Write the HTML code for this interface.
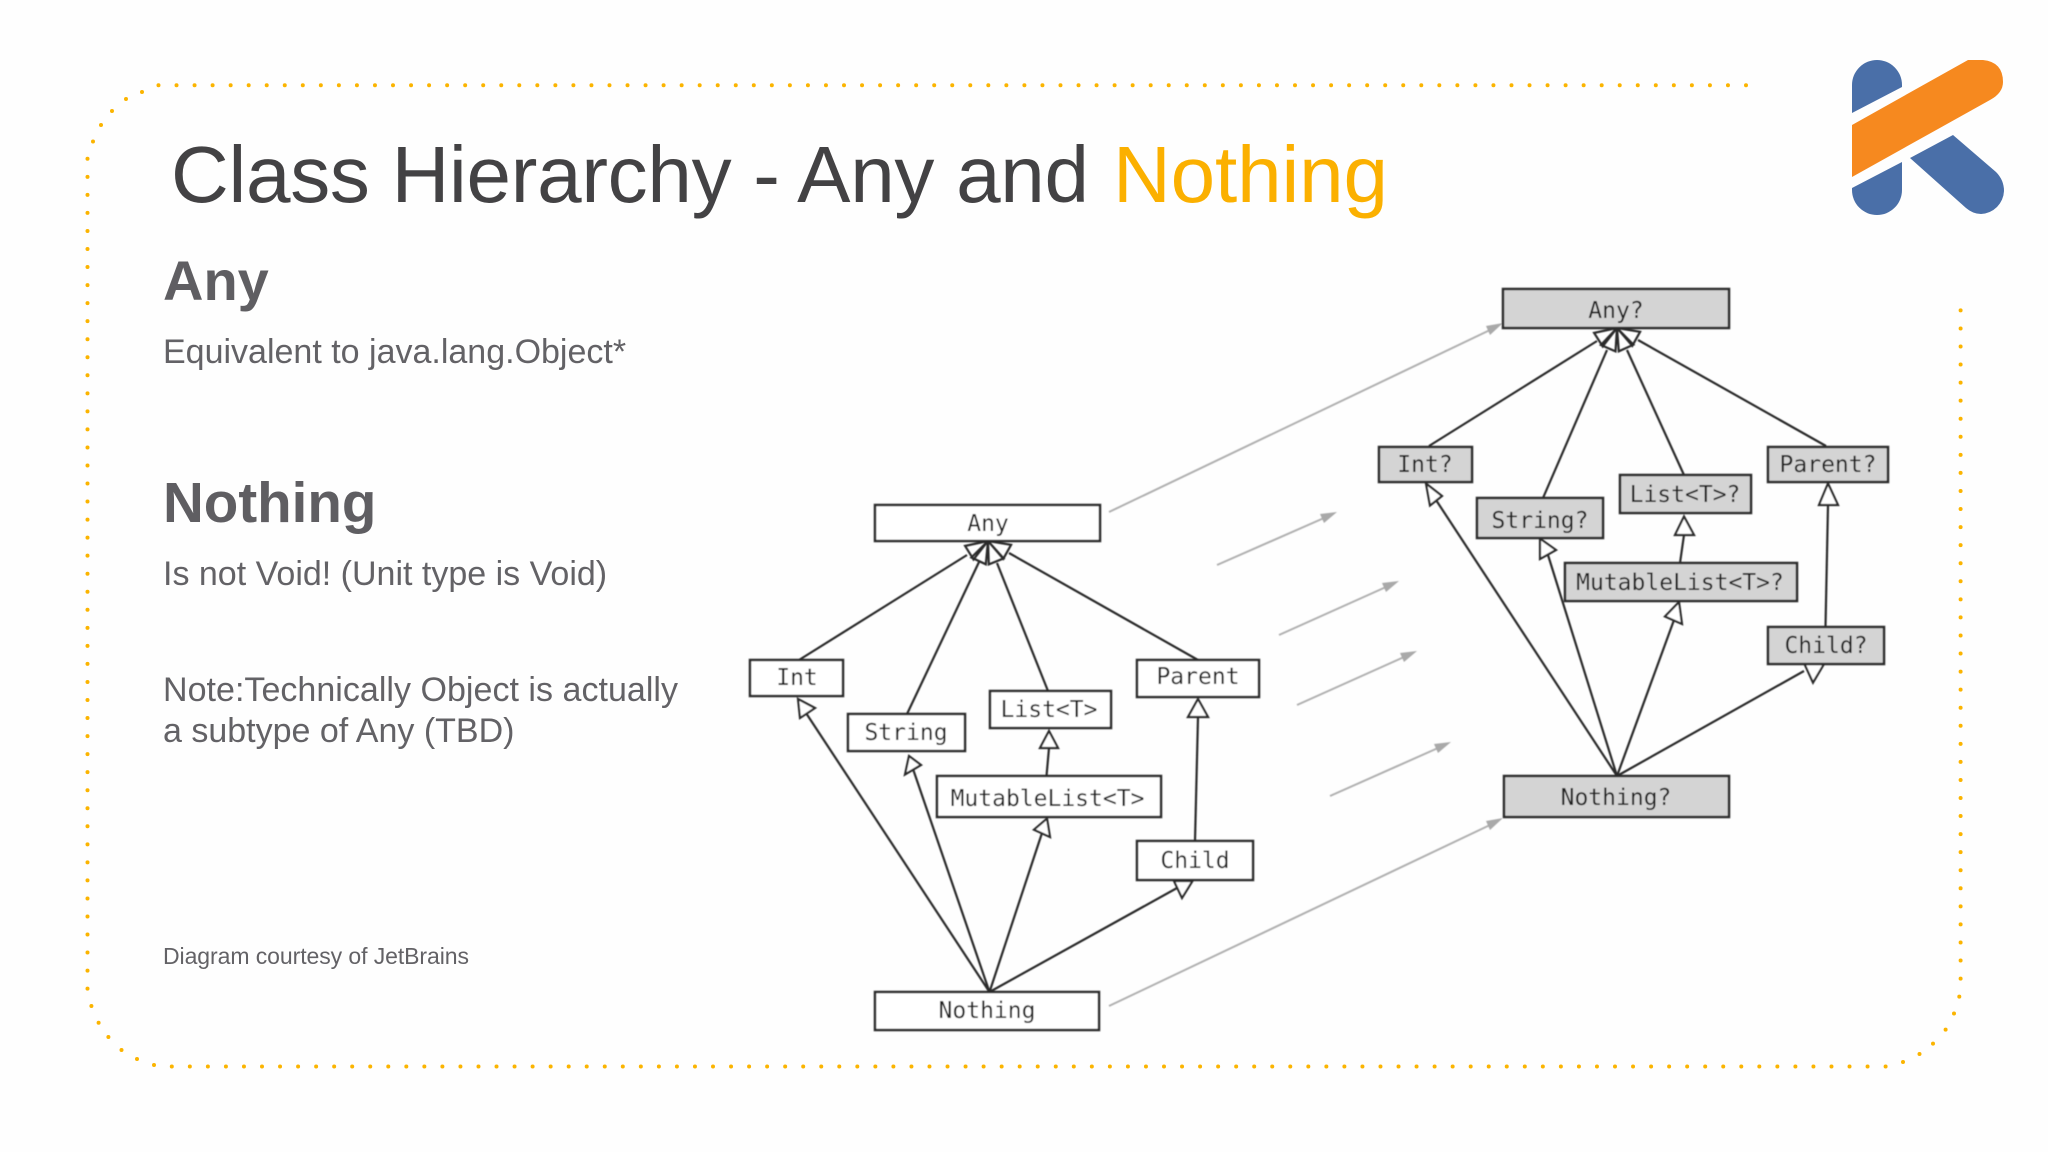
<!DOCTYPE html>
<html><head><meta charset="utf-8"><style>
html,body{margin:0;padding:0;background:#fff}
svg{display:block}
.t{font-family:"Liberation Sans",sans-serif}
.m{font-family:"DejaVu Sans Mono","Liberation Mono",monospace;font-size:23px;fill:#222;text-anchor:middle}
</style></head><body>
<svg width="2048" height="1152" viewBox="0 0 2048 1152" xmlns="http://www.w3.org/2000/svg">
<defs><filter id="b" x="-5%" y="-5%" width="110%" height="110%"><feGaussianBlur stdDeviation="0.6"/></filter></defs>
<rect width="2048" height="1152" fill="#fefefe"/>
<g fill="none" stroke="#fbb400" stroke-width="4" stroke-linecap="round">
<path stroke-dasharray="0 18.04" d="M1746 85.2H158"/>
<path stroke-dasharray="0 18.04" d="M87.5 158.8V989"/>
<path stroke-dasharray="0 18.04" d="M171.8 1066.5H1886"/>
<path stroke-dasharray="0 18.06" d="M1960.6 978.6V310"/>
<path d="M142 92h0M126 99h0M112 111h0M101 125h0M93 141.5h0M91.4 1006h0M98.6 1022.7h0M108.4 1037h0M121.5 1050h0M137 1059h0M154 1065h0M1903 1062h0M1919.5 1054h0M1933 1043.6h0M1945.6 1029.6h0M1954 1013.5h0M1959.3 996.6h0"/>
</g>
<text class="t" x="171" y="202" font-size="80" fill="#434244" textLength="918">Class Hierarchy - Any and</text>
<text class="t" x="1113" y="202" font-size="80" fill="#fbb000" textLength="275">Nothing</text>
<text class="t" x="163" y="300" font-size="56" font-weight="bold" fill="#5f5e62">Any</text>
<text class="t" x="163" y="363" font-size="34" fill="#636266">Equivalent to java.lang.Object*</text>
<text class="t" x="163" y="522" font-size="56.5" font-weight="bold" fill="#5f5e62">Nothing</text>
<text class="t" x="163" y="585" font-size="34" fill="#636266">Is not Void! (Unit type is Void)</text>
<text class="t" x="163" y="701" font-size="34" fill="#636266" textLength="515">Note:Technically Object is actually</text>
<text class="t" x="163" y="742" font-size="34" fill="#636266">a subtype of Any (TBD)</text>
<text class="t" x="163" y="968" font-size="23" fill="#636266" textLength="306" transform="translate(0 -4)">Diagram courtesy of JetBrains</text>
<!-- logo -->
<path fill="#4a6fa8" d="M1852 113V85A25 25 0 0 1 1902 85V87Z"/>
<path fill="#f6891f" d="M1852 125L1968 60H1983Q2003 62 2003 82Q2003 93 1990 100L1852 177Z"/>
<path fill="#4a6fa8" d="M1852 188L1902 162V190A25 25 0 0 1 1852 190Z"/>
<path fill="#4a6fa8" d="M1910 158L1953 135L1996 172Q2004 180 2004 191A24 24 0 0 1 1981 214Q1973 214 1966 208Z"/>
<g filter="url(#b)">
<!-- gray arrows -->
<g stroke="#b0b0b0" stroke-width="2" fill="#a9a9a9">
<path d="M1109 512L1490 330"/><path stroke="none" d="M1503 323L1490 335L1486 326Z"/>
<path d="M1217 565L1324 518"/><path stroke="none" d="M1337 512L1324 523L1320 514Z"/>
<path d="M1279 635L1386 587"/><path stroke="none" d="M1399 581L1386 592L1382 583Z"/>
<path d="M1297 705L1404 657"/><path stroke="none" d="M1417 651L1404 662L1400 653Z"/>
<path d="M1330 796L1438 748"/><path stroke="none" d="M1451 742L1438 753L1434 744Z"/>
<path d="M1109 1006L1490 825"/><path stroke="none" d="M1503 818L1490 830L1486 821Z"/>
</g>
<!-- left edges -->
<g stroke="#2a2a2a" stroke-width="2.2" fill="none">
<path d="M799 660L967 555M907 714L979 562M1048 691L997 563M1198 660L1009 553"/>
<path d="M989.5 992L806 713M989.5 992L913 769M989.5 992L1042 833M989.5 992L1177 888"/>
<path d="M1046.5 776L1049 748M1195 841L1198 717"/>
<path d="M988 541L973.5 559.5L965.1 545.9ZM988 541L985.8 564.3L971.4 557.5ZM988 541L1003.6 558.4L988.8 564.4ZM988 541L1011.1 544.8L1003.3 558.8Z"/>
<path fill="#fff" d="M798 699L815 708L800 718ZM909 756L921 765L905 774.5ZM1047 818.6L1050 837L1034 829.7ZM1174 881L1192.5 881L1182 898ZM1049 731L1058 748L1040 748ZM1198 699L1208 717L1188 717Z"/>
</g>
<!-- right edges -->
<g stroke="#2a2a2a" stroke-width="2.2" fill="none">
<path d="M1429 446L1597 341M1543 498L1607 350M1684 475L1627 350M1826 446L1638 340"/>
<path d="M1617 776L1436 500M1617 776L1548 555M1617 776L1674 620M1617 776L1804 671"/>
<path d="M1680 563L1684 535M1825.5 627L1828 505"/>
<path d="M1617 328L1602.7 346.5L1594.1 332.9ZM1617 328L1615.5 351.4L1600.9 345ZM1617 328L1633.4 344.7L1618.8 351.3ZM1617 328L1640.1 331.8L1632.3 345.8Z"/>
<path fill="#fff" d="M1426 483.5L1442 496L1430 505.5ZM1540 538.6L1556 550L1540 559ZM1679 602L1682 624L1665 616.5ZM1804.5 664L1824 664L1813 682.6ZM1684 516.5L1694 535L1675 535ZM1828 483.5L1838 505L1819 505Z"/>
</g>
<!-- left boxes -->
<g fill="#fff" stroke="#2a2a2a" stroke-width="2.5">
<rect x="880" y="507" width="225" height="36" transform="translate(-5 -2)"/>
<rect x="755" y="662" width="93" height="36" transform="translate(-5 -2)"/>
<rect x="848" y="714" width="117" height="37"/>
<rect x="990" y="691" width="121" height="37"/>
<rect x="1137" y="660" width="122" height="37"/>
<rect x="937" y="776" width="224" height="41"/>
<rect x="1137" y="841" width="116" height="39"/>
<rect x="875" y="992" width="224" height="38"/>
</g>
<!-- right boxes -->
<g fill="#d4d4d4" stroke="#2a2a2a" stroke-width="2.5">
<rect x="1503" y="289" width="226" height="39"/>
<rect x="1379" y="447" width="93" height="35"/>
<rect x="1768" y="447" width="120" height="35"/>
<rect x="1620" y="475" width="131" height="38"/>
<rect x="1477" y="498" width="126" height="40"/>
<rect x="1565" y="563" width="232" height="38"/>
<rect x="1768" y="627" width="116" height="37"/>
<rect x="1504" y="776" width="225" height="41"/>
</g>
<g class="m">
<text class="m" x="988" y="531">Any</text>
<text class="m" x="797" y="685">Int</text>
<text class="m" x="906" y="740">String</text>
<text class="m" x="1049" y="717">List&lt;T&gt;</text>
<text class="m" x="1198" y="684">Parent</text>
<text class="m" x="1047.5" y="806">MutableList&lt;T&gt;</text>
<text class="m" x="1195" y="868">Child</text>
<text class="m" x="987" y="1018">Nothing</text>
<text class="m" x="1616" y="318">Any?</text>
<text class="m" x="1425" y="472">Int?</text>
<text class="m" x="1828" y="472">Parent?</text>
<text class="m" x="1685" y="502">List&lt;T&gt;?</text>
<text class="m" x="1540" y="528">String?</text>
<text class="m" x="1680" y="590">MutableList&lt;T&gt;?</text>
<text class="m" x="1826" y="653">Child?</text>
<text class="m" x="1616" y="805">Nothing?</text>
</g>
</g>
</svg>
</body></html>
